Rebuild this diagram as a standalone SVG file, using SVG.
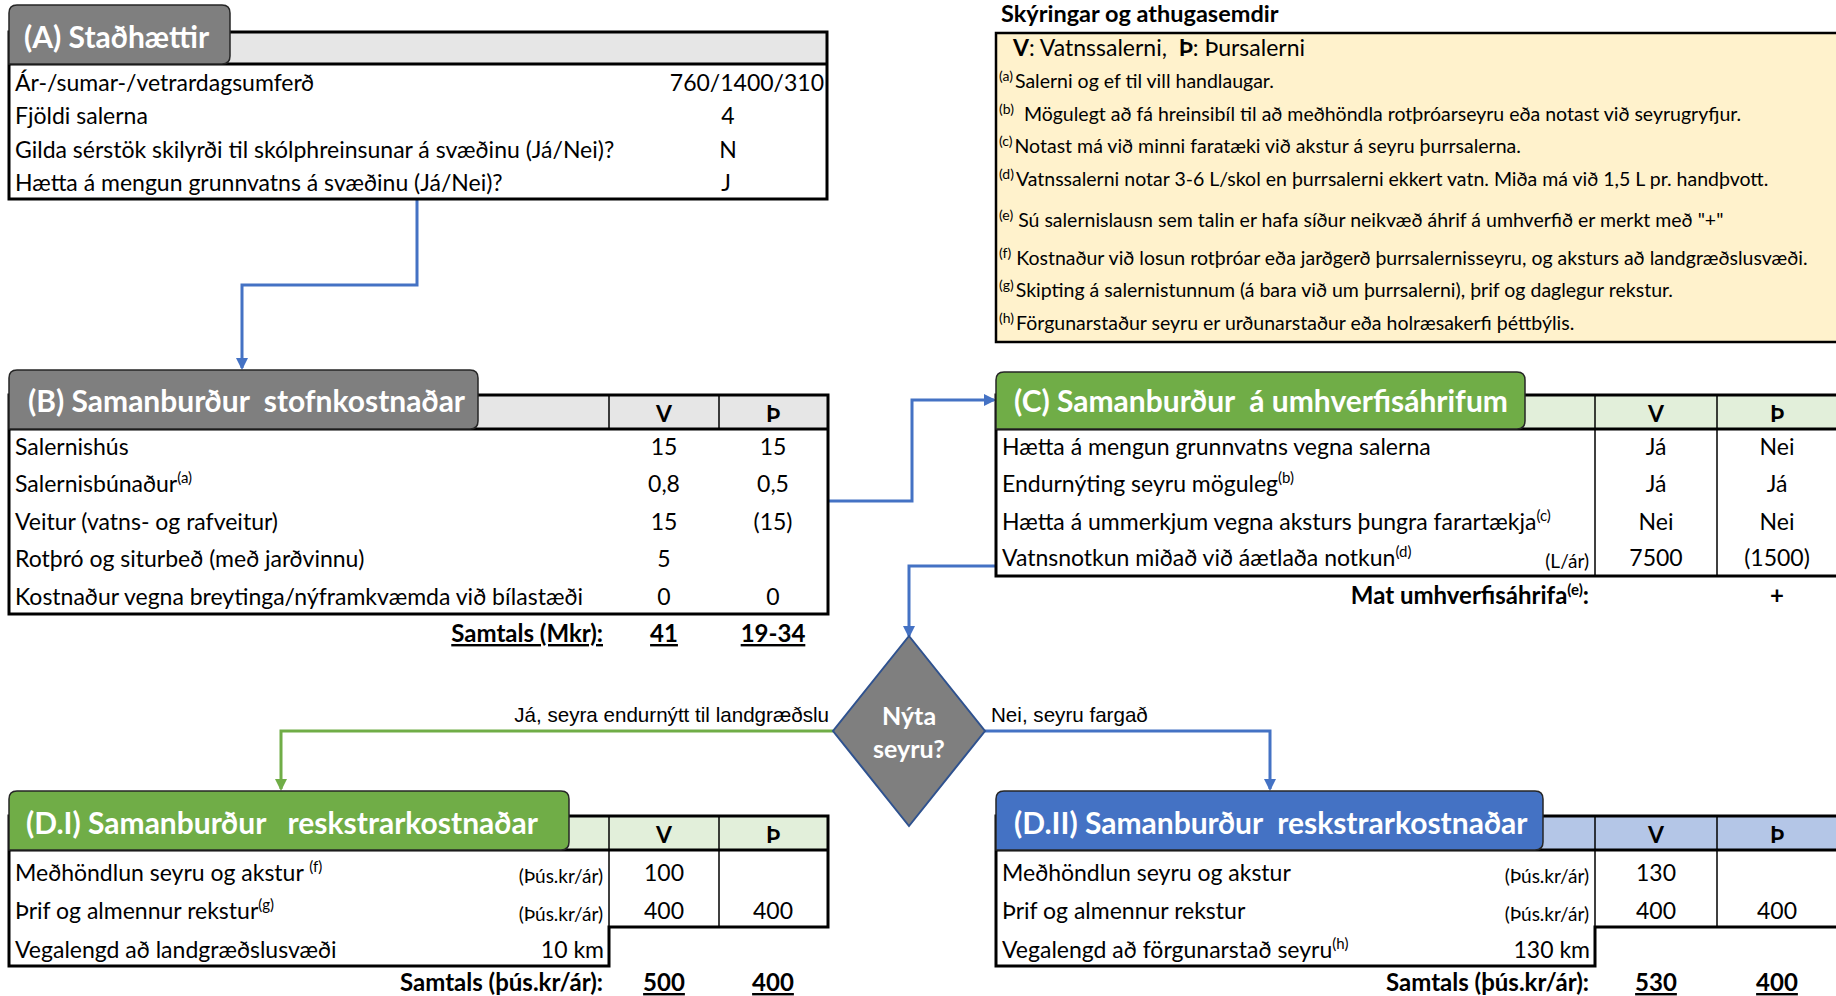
<svg xmlns="http://www.w3.org/2000/svg" width="1836" height="996" viewBox="0 0 1836 996">
<style>
text{font-family:Lato,"Liberation Sans",sans-serif;fill:#000}
.t{font-size:23px}
.b{font-weight:bold}
.c{text-anchor:middle}
.e{text-anchor:end}
.tab{font-size:30px;font-weight:bold;fill:#fff}
.sm{font-size:19px}
.nt{font-size:19.5px}
.sup{font-size:15px}
.nsup{font-size:14px}
.lbl{font-family:"Liberation Sans",Arial,sans-serif;font-size:20.6px}
.u{text-decoration:underline}
.tot{font-size:24px;font-weight:bold}
.frame{fill:none;stroke:#000;stroke-width:3}
.ln{stroke:#000;stroke-width:3;fill:none}
.thin{stroke:#000;stroke-width:1.5;fill:none}
.tabshape{stroke:#262626;stroke-width:1.5}
.cb{fill:none;stroke:#4472c4;stroke-width:3}
.cg{fill:none;stroke:#70ad47;stroke-width:3}
</style>
<defs>
<marker id="ab" markerWidth="12" markerHeight="12" refX="10" refY="6" orient="auto" markerUnits="userSpaceOnUse"><path d="M0,0 L12,6 L0,12 Z" fill="#4472c4"/></marker>
<marker id="ag" markerWidth="12" markerHeight="12" refX="10" refY="6" orient="auto" markerUnits="userSpaceOnUse"><path d="M0,0 L12,6 L0,12 Z" fill="#70ad47"/></marker>
</defs>

<g id="connectors">
<path class="cb" d="M417,199 V285 H242 V368" marker-end="url(#ab)"/>
<path class="cb" d="M828,501 H912 V400 H994" marker-end="url(#ab)"/>
<path class="cb" d="M996,566 H909 V636" marker-end="url(#ab)"/>
<path class="cg" d="M833,731 H281 V789" marker-end="url(#ag)"/>
<path class="cb" d="M985,731 H1270 V789" marker-end="url(#ab)"/>
<text class="lbl e" x="829" y="722">Já, seyra endurnýtt til landgræðslu</text>
<text class="lbl" x="991" y="722">Nei, seyru fargað</text>
</g>

<g id="tableA">
<rect x="9" y="32" width="818" height="32" fill="#e6e6e6"/>
<rect class="frame" x="9" y="32" width="818" height="167"/>
<line class="ln" x1="9" y1="64" x2="827" y2="64"/>
<path class="tabshape" fill="#7f7f7f" d="M9,64 V13 Q9,5 17,5 H222 Q230,5 230,13 V56 Q230,64 222,64 Z"/>
<text class="tab" x="24" y="48">(A) Staðhættir</text>
<text class="t" x="15" y="91">Ár-/sumar-/vetrardagsumferð</text>
<text class="t" x="15" y="124">Fjöldi salerna</text>
<text class="t" x="15" y="158">Gilda sérstök skilyrði til skólphreinsunar á svæðinu (Já/Nei)?</text>
<text class="t" x="15" y="191">Hætta á mengun grunnvatns á svæðinu (Já/Nei)?</text>
<text class="t e" x="824" y="91">760/1400/310</text>
<text class="t c" x="728" y="124">4</text>
<text class="t c" x="728" y="158">N</text>
<text class="t c" x="726" y="191">J</text>
</g>

<g id="notes">
<text class="b" x="1001" y="22" font-size="23.5">Skýringar og athugasemdir</text>
<rect x="996" y="33" width="850" height="309" fill="#fff2cc" stroke="#000" stroke-width="2.5"/>
<text x="1013" y="56" font-size="23" xml:space="preserve"><tspan class="b">V</tspan>: Vatnssalerni,  <tspan class="b">Þ</tspan>: Þursalerni</text>
<text class="nt" x="999" y="88"><tspan class="nsup" dy="-7">(a)</tspan><tspan dy="7" dx="2">Salerni og ef til vill handlaugar.</tspan></text>
<text class="nt" x="999" y="121"><tspan class="nsup" dy="-7">(b)</tspan><tspan dy="7" xml:space="preserve">  Mögulegt að fá hreinsibíl til að meðhöndla rotþróarseyru eða notast við seyrugryfjur.</tspan></text>
<text class="nt" x="999" y="153"><tspan class="nsup" dy="-7">(c)</tspan><tspan dy="7" dx="2">Notast má við minni faratæki við akstur á seyru þurrsalerna.</tspan></text>
<text class="nt" x="999" y="186"><tspan class="nsup" dy="-7">(d)</tspan><tspan dy="7" dx="2">Vatnssalerni notar 3-6 L/skol en þurrsalerni ekkert vatn. Miða má við 1,5 L pr. handþvott.</tspan></text>
<text class="nt" x="999" y="227"><tspan class="nsup" dy="-7">(e)</tspan><tspan dy="7"> Sú salernislausn sem talin er hafa síður neikvæð áhrif á umhverfið er merkt með "+"</tspan></text>
<text class="nt" x="999" y="265"><tspan class="nsup" dy="-7">(f)</tspan><tspan dy="7"> Kostnaður við losun rotþróar eða jarðgerð þurrsalernisseyru, og aksturs að landgræðslusvæði.</tspan></text>
<text class="nt" x="999" y="297"><tspan class="nsup" dy="-7">(g)</tspan><tspan dy="7" dx="2">Skipting á salernistunnum (á bara við um þurrsalerni), þrif og daglegur rekstur.</tspan></text>
<text class="nt" x="999" y="330"><tspan class="nsup" dy="-7">(h)</tspan><tspan dy="7" dx="2">Förgunarstaður seyru er urðunarstaður eða holræsakerfi þéttbýlis.</tspan></text>
</g>

<g id="tableB">
<rect x="9" y="395" width="819" height="34" fill="#e6e6e6"/>
<rect class="frame" x="9" y="395" width="819" height="219"/>
<line class="ln" x1="9" y1="429" x2="828" y2="429"/>
<line class="thin" x1="609" y1="395" x2="609" y2="429"/>
<line class="thin" x1="719" y1="395" x2="719" y2="429"/>
<path class="tabshape" fill="#7f7f7f" d="M9,429 V378 Q9,370 17,370 H470 Q478,370 478,378 V421 Q478,429 470,429 Z"/>
<text class="tab" x="28" y="412" xml:space="preserve">(B) Samanburður  stofnkostnaðar</text>
<text class="t b c" x="664" y="422">V</text>
<text class="t b c" x="773" y="422">Þ</text>
<text class="t" x="15" y="455">Salernishús</text>
<text class="t" x="15" y="492">Salernisbúnaður<tspan class="sup" dy="-9">(a)</tspan></text>
<text class="t" x="15" y="530">Veitur (vatns- og rafveitur)</text>
<text class="t" x="15" y="567">Rotþró og siturbeð (með jarðvinnu)</text>
<text class="t" x="15" y="605">Kostnaður vegna breytinga/nýframkvæmda við bílastæði</text>
<text class="t c" x="664" y="455">15</text><text class="t c" x="773" y="455">15</text>
<text class="t c" x="664" y="492">0,8</text><text class="t c" x="773" y="492">0,5</text>
<text class="t c" x="664" y="530">15</text><text class="t c" x="773" y="530">(15)</text>
<text class="t c" x="664" y="567">5</text>
<text class="t c" x="664" y="605">0</text><text class="t c" x="773" y="605">0</text>
<text class="tot e u" x="603" y="642">Samtals (Mkr):</text>
<text class="tot c u" x="664" y="642">41</text>
<text class="tot c u" x="773" y="642">19-34</text>
</g>

<g id="tableC">
<rect x="996" y="395" width="845" height="34" fill="#e2efda"/>
<rect class="frame" x="996" y="395" width="845" height="181"/>
<line class="ln" x1="996" y1="429" x2="1840" y2="429"/>
<line class="thin" x1="1595" y1="395" x2="1595" y2="576"/>
<line class="thin" x1="1717" y1="395" x2="1717" y2="576"/>
<path class="tabshape" fill="#70ad47" d="M996,429 V380 Q996,372 1004,372 H1517 Q1525,372 1525,380 V421 Q1525,429 1517,429 Z"/>
<text class="tab" x="1014" y="412" xml:space="preserve">(C) Samanburður  á umhverfisáhrifum</text>
<text class="t b c" x="1656" y="422">V</text>
<text class="t b c" x="1777" y="422">Þ</text>
<text class="t" x="1002" y="455">Hætta á mengun grunnvatns vegna salerna</text>
<text class="t" x="1002" y="492">Endurnýting seyru möguleg<tspan class="sup" dy="-9">(b)</tspan></text>
<text class="t" x="1002" y="530">Hætta á ummerkjum vegna aksturs þungra farartækja<tspan class="sup" dy="-9">(c)</tspan></text>
<text class="t" x="1002" y="566">Vatnsnotkun miðað við áætlaða notkun<tspan class="sup" dy="-9">(d)</tspan></text>
<text class="sm e" x="1589" y="568">(L/ár)</text>
<text class="t c" x="1656" y="455">Já</text><text class="t c" x="1777" y="455">Nei</text>
<text class="t c" x="1656" y="492">Já</text><text class="t c" x="1777" y="492">Já</text>
<text class="t c" x="1656" y="530">Nei</text><text class="t c" x="1777" y="530">Nei</text>
<text class="t c" x="1656" y="566">7500</text><text class="t c" x="1777" y="566">(1500)</text>
<text class="tot e" x="1589" y="604">Mat umhverfisáhrifa<tspan class="sup" dy="-9">(e)</tspan><tspan dy="9">:</tspan></text>
<text class="tot c" x="1777" y="604">+</text>
</g>

<g id="decision">
<polygon points="909,636 985,731 909,826 833,731" fill="#7f7f7f" stroke="#2f528f" stroke-width="2"/>
<text class="c b" x="909" y="725" font-size="25" style="fill:#fff">Nýta</text>
<text class="c b" x="909" y="758" font-size="25" style="fill:#fff">seyru?</text>
</g>

<g id="tableD1">
<rect x="9" y="816" width="819" height="34" fill="#e2efda"/>
<path class="ln" d="M9,816 H828 V927 H609 V966 H9 Z"/>
<line class="ln" x1="9" y1="850" x2="828" y2="850"/>
<line class="thin" x1="609" y1="816" x2="609" y2="966"/>
<line class="thin" x1="719" y1="816" x2="719" y2="927"/>
<path class="tabshape" fill="#70ad47" d="M9,850 V799 Q9,791 17,791 H561 Q569,791 569,799 V842 Q569,850 561,850 Z"/>
<text class="tab" x="26" y="834" xml:space="preserve">(D.I) Samanburður   reskstrarkostnaðar</text>
<text class="t b c" x="664" y="843">V</text>
<text class="t b c" x="773" y="843">Þ</text>
<text class="t" x="15" y="881" xml:space="preserve">Meðhöndlun seyru og akstur <tspan class="sup" dy="-9">(f)</tspan></text>
<text class="sm e" x="603" y="883">(Þús.kr/ár)</text>
<text class="t" x="15" y="919">Þrif og almennur rekstur<tspan class="sup" dy="-9">(g)</tspan></text>
<text class="sm e" x="603" y="921">(Þús.kr/ár)</text>
<text class="t" x="15" y="958">Vegalengd að landgræðslusvæði</text>
<text class="t e" x="604" y="958">10 km</text>
<text class="t c" x="664" y="881">100</text>
<text class="t c" x="664" y="919">400</text><text class="t c" x="773" y="919">400</text>
<text class="tot e" x="603" y="991">Samtals (þús.kr/ár):</text>
<text class="tot c u" x="664" y="991">500</text>
<text class="tot c u" x="773" y="991">400</text>
</g>

<g id="tableD2">
<rect x="996" y="816" width="845" height="34" fill="#b4c6e7"/>
<path class="ln" d="M1840,816 H996 V966 H1595 V927 H1840"/>
<line class="ln" x1="996" y1="850" x2="1840" y2="850"/>
<line class="thin" x1="1595" y1="816" x2="1595" y2="966"/>
<line class="thin" x1="1717" y1="816" x2="1717" y2="927"/>
<path class="tabshape" fill="#4472c4" d="M996,850 V799 Q996,791 1004,791 H1535 Q1543,791 1543,799 V842 Q1543,850 1535,850 Z"/>
<text class="tab" x="1014" y="834" xml:space="preserve">(D.II) Samanburður  reskstrarkostnaðar</text>
<text class="t b c" x="1656" y="843">V</text>
<text class="t b c" x="1777" y="843">Þ</text>
<text class="t" x="1002" y="881">Meðhöndlun seyru og akstur</text>
<text class="sm e" x="1589" y="883">(Þús.kr/ár)</text>
<text class="t" x="1002" y="919">Þrif og almennur rekstur</text>
<text class="sm e" x="1589" y="921">(Þús.kr/ár)</text>
<text class="t" x="1002" y="958">Vegalengd að förgunarstað seyru<tspan class="sup" dy="-9">(h)</tspan></text>
<text class="t e" x="1590" y="958">130 km</text>
<text class="t c" x="1656" y="881">130</text>
<text class="t c" x="1656" y="919">400</text><text class="t c" x="1777" y="919">400</text>
<text class="tot e" x="1589" y="991">Samtals (þús.kr/ár):</text>
<text class="tot c u" x="1656" y="991">530</text>
<text class="tot c u" x="1777" y="991">400</text>
</g>
</svg>
